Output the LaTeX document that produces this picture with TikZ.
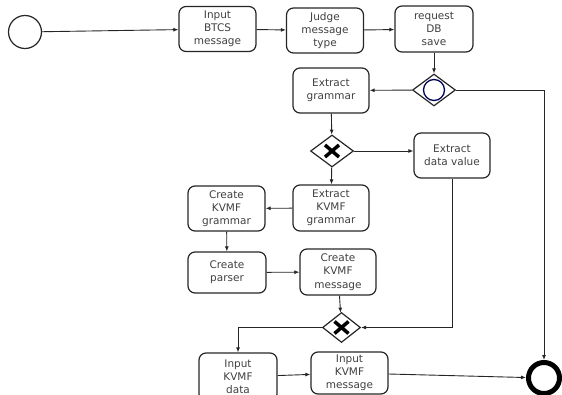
\documentclass[tikz,border=0pt]{standalone}
\usepackage{fontspec}
\setmainfont{DejaVu Sans}
\usetikzlibrary{
    arrows.meta,
    positioning,
    shapes.geometric
}
\tikzset{
    % Colors
    line color/.style={black!85},
    label color/.style={text=black!75},
    gateway color/.style={blue!35!black},
    %
    % Nodes
    task/.style={draw,line color,label color,line width=1.2pt,rounded corners=7pt,
        minimum width=77pt,minimum height=45pt,inner sep=0pt,align=center,
        font=\fontsize{10.5}{13.2}\selectfont},
    gateway/.style={diamond,draw,line color,line width=1.2pt,inner sep=0pt,
        minimum width=43pt,minimum height=32pt},
    start event/.style={circle,draw,line color,line width=1.2pt,inner sep=0pt,minimum size=33pt},
    end event/.style={circle,draw,black,line width=5pt,inner sep=0pt,minimum size=31pt},
    xmark/.style={line width=3.5pt,black},
    %
    % Arrows
    arrow tip/.tip={Latex[length=5pt,width=4pt]},
    arr/.style={->,>={arrow tip},line color,line width=0.9pt}
}

\begin{document}
\begin{tikzpicture}[x=1pt,y=-1pt]
    \useasboundingbox (0,0) rectangle (562,395);
    \node[start event] (start) at (25,32) {};
    \node[task] (inbtcs) at (217.5,29) {Input\\BTCS\\message};
    \node[task] (judge) at (325,30.5) {Judge\\message\\type};
    \node[task,minimum width=78pt,minimum height=46pt] (reqdb) at (434,29) {request\\DB\\save};
    \node[gateway] (gwsave) at (434,90) {};
    \node[task,minimum width=76pt] (exgram) at (331,90.5) {Extract\\grammar};
    \node[gateway] (gwsplit) at (332,151) {};
    \node[task,minimum width=76pt] (exdata) at (452,155.5) {Extract\\data value};
    \node[task,minimum width=76pt,minimum height=46pt] (exkvmf) at (331,208) {Extract\\KVMF\\grammar};
    \node[task] (crgram) at (226.5,208.5) {Create\\KVMF\\grammar};
    \node[task,minimum width=78pt,minimum height=41pt] (crparser) at (227,272.5) {Create\\parser};
    \node[task,minimum width=76pt,minimum height=46pt] (crmsg) at (338,272) {Create\\KVMF\\message};
    \node[gateway,minimum width=38pt,minimum height=30pt] (gwjoin) at (341.5,327.5) {};
    \node[task,minimum width=78pt,minimum height=48pt] (indata) at (238,377) {Input\\KVMF\\data};
    \node[task,minimum height=42pt] (inmsg) at (349.5,373) {Input\\KVMF\\message};
    \node[end event] (end) at (544,378) {};
    %
    \draw[gateway color,line width=1.3pt] (gwsave) circle[radius=10.5pt];
    \foreach \g in {gwsplit,gwjoin}{
        \draw[xmark] ([shift={(-7,-6)}]\g.center) -- ([shift={(7,6)}]\g.center)
            ([shift={(-7,6)}]\g.center) -- ([shift={(7,-6)}]\g.center);
    }
    %
    \draw[arr] (start) -- (inbtcs);
    \draw[arr] (inbtcs) -- (judge);
    \draw[arr] (judge) -- (reqdb);
    \draw[arr] (reqdb) -- (gwsave);
    \draw[arr] (gwsave) -- (exgram);
    \draw[arr] (gwsave.east) -| (end.north);
    \draw[arr] (exgram) -- (gwsplit);
    \draw[arr] (gwsplit.east) -- (gwsplit.east -| exdata.west);
    \draw[arr] (gwsplit) -- (exkvmf);
    \draw[arr] (exkvmf) -- (crgram);
    \draw[arr] (crgram) -- (crparser);
    \draw[arr] (crparser) -- (crmsg);
    \draw[arr] (crmsg) -- (gwjoin);
    \draw[arr] (exdata.south) |- (gwjoin.east);
    \draw[arr] (gwjoin.west) -| (indata.north);
    \draw[arr] (indata) -- (inmsg);
    \draw[arr] (inmsg) -- (end);
\end{tikzpicture}
\end{document}
